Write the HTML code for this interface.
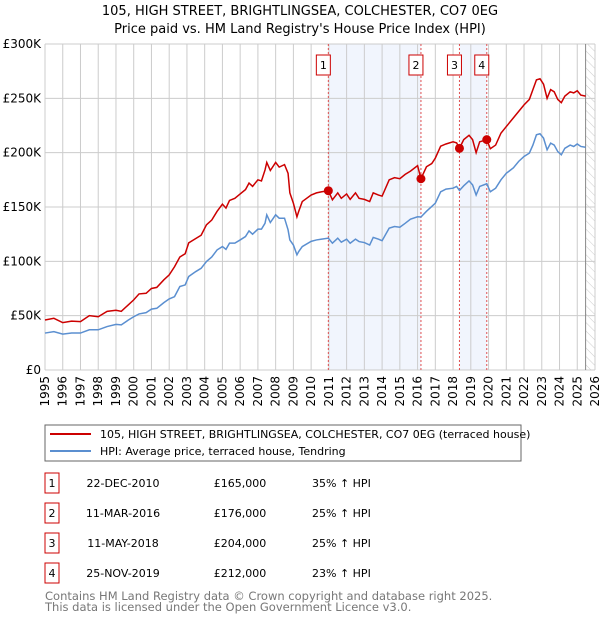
<!DOCTYPE html>
<html><head><meta charset="utf-8"><style>
body{margin:0;background:#fff;font-family:"DejaVu Sans","Liberation Sans",sans-serif;}
svg{display:block}
</style></head><body>
<svg id="chart" width="600" height="620" xmlns="http://www.w3.org/2000/svg" font-family="DejaVu Sans, Liberation Sans, sans-serif">
<text x="300" y="15" text-anchor="middle" font-size="13">105, HIGH STREET, BRIGHTLINGSEA, COLCHESTER, CO7 0EG</text>
<text x="300" y="33" text-anchor="middle" font-size="13">Price paid vs. HM Land Registry's House Price Index (HPI)</text>
<defs><pattern id="hatch" patternUnits="userSpaceOnUse" width="6" height="6" patternTransform="rotate(-45)"><line x1="0" y1="0" x2="0" y2="6" stroke="#ccc" stroke-width="1"/></pattern></defs>
<g id="plot"></g>
<g>
<rect x="45" y="425" width="476" height="36" fill="#fff" stroke="#666"/>
<line x1="50" y1="434" x2="91" y2="434" stroke="#cc0000" stroke-width="2"/>
<text x="100" y="438" font-size="11">105, HIGH STREET, BRIGHTLINGSEA, COLCHESTER, CO7 0EG (terraced house)</text>
<line x1="50" y1="451" x2="91" y2="451" stroke="#5b8fd0" stroke-width="2"/>
<text x="100" y="455" font-size="11">HPI: Average price, terraced house, Tendring</text>
</g>
<g id="table"></g>
<text x="45" y="600" font-size="11.5" fill="#777">Contains HM Land Registry data © Crown copyright and database right 2025.</text>
<text x="45" y="611" font-size="11.5" fill="#777">This data is licensed under the Open Government Licence v3.0.</text>
</svg>
<script>
const redYears=[1995,1995.5,1996,1996.5,1997,1997.5,1998,1998.5,1999,1999.3,1999.7,2000,2000.3,2000.7,2001,2001.3,2001.7,2002,2002.3,2002.6,2002.9,2003.1,2003.5,2003.8,2004.1,2004.4,2004.7,2005,2005.2,2005.4,2005.7,2006,2006.3,2006.5,2006.7,2007,2007.2,2007.4,2007.5,2007.7,2008,2008.2,2008.5,2008.7,2008.8,2009,2009.2,2009.3,2009.5,2010,2010.3,2010.6,2010.97,2011.2,2011.5,2011.7,2012,2012.2,2012.5,2012.7,2013,2013.3,2013.5,2013.8,2014,2014.4,2014.7,2015,2015.3,2015.6,2016,2016.19,2016.5,2016.8,2017,2017.3,2017.6,2018,2018.2,2018.36,2018.6,2018.9,2019.1,2019.3,2019.5,2019.9,2020.1,2020.4,2020.7,2021,2021.4,2021.7,2022,2022.3,2022.5,2022.7,2022.9,2023.1,2023.3,2023.5,2023.7,2023.9,2024.1,2024.3,2024.6,2024.8,2025,2025.2,2025.47];
const redValues=[46,47.6,43.6,45,44.5,50,49,54,55,54,60,64.5,70,70.6,75,76,83,87.5,95,104,107,117,121,124,133.6,138,146,152.6,149,156,158,162,166,172,169,175,174,184,191,183.6,191,186.7,189,181,163,153.5,141,146,155,161,163,164,165,156.6,163,158,162,157,163,158,157,155,163,161,160,175,177,176,180,183,188,176,187,190,195,206,208,210,209,204,212,216,212,200,210,212,203.6,207,218,224,232,238,244,249,258,267,268,263,250,258,256,249,246,252,256,255,257,253,252];
const hpiValues=[34,35.3,33,34,34,37,37,40,42,41.5,46,49,51.6,52.8,56,56.8,62,65.4,67.5,76.8,78.3,86,90.6,93.6,99.8,104,110.5,113.6,111,116.7,116.7,119.7,122.8,128,125,129.6,129.6,135,142.8,135.7,142.8,139.7,139.7,129,119.7,115,106,109,113.6,118.4,119.7,120.4,121.3,116.7,121.3,117.6,120.4,116.7,120.4,118.2,117.3,115,122,120.4,119,130.5,132,131.4,135,138.8,141,140.8,146,150.5,153.5,164,166.5,167.3,168.9,165.2,169.5,174,170.4,161,168.9,171.4,164,167.3,175,181,186,192,196.5,199.6,207,216.5,217.4,213.4,202.6,208.8,207,201,198,204,207,205.7,208,205.7,205];
const saleDates=[2010.97,2016.19,2018.36,2019.9];
const salePrices=[165,176,204,212];
const saleLabels=["1","2","3","4"];
const saleDateText=["22-DEC-2010","11-MAR-2016","11-MAY-2018","25-NOV-2019"];
const salePriceText=["£165,000","£176,000","£204,000","£212,000"];
const saleHpiText=["35% ↑ HPI","25% ↑ HPI","25% ↑ HPI","23% ↑ HPI"];
const yTicks=[0,50,100,150,200,250,300];
const yTickLabels=["£0","£50K","£100K","£150K","£200K","£250K","£300K"];
const xTicks=[1995,1996,1997,1998,1999,2000,2001,2002,2003,2004,2005,2006,2007,2008,2009,2010,2011,2012,2013,2014,2015,2016,2017,2018,2019,2020,2021,2022,2023,2024,2025,2026];
const shadeSpans=[[0,1],[2,3]];
const forecastStart=2025.47;

const L=45,R=595,T=44,B=370;
const X=y=>L+(y-1995)/(2026-1995)*(R-L);
const Y=v=>B-v/300*(B-T);
const NS="http://www.w3.org/2000/svg";
function mk(tag,attrs,parent){const e=document.createElementNS(NS,tag);for(const k in attrs)e.setAttribute(k,attrs[k]);parent.appendChild(e);return e;}
const plot=document.getElementById('plot');
shadeSpans.forEach(s=>{
 const r=mk('rect',{x:X(saleDates[s[0]]),y:T,width:X(saleDates[s[1]])-X(saleDates[s[0]]),height:B-T,fill:'#eef2fc',opacity:'0.8'},plot);
 
 
});
const fc=mk('rect',{x:X(forecastStart),y:T,width:R-X(forecastStart),height:B-T,fill:'url(#hatch)'},plot);


xTicks.forEach(t=>{
 const g=mk('line',{x1:X(t),x2:X(t),y1:T,y2:B,stroke:'#ccc','stroke-width':1},plot);
 
 
 const tx=mk('text',{x:0,y:0,'font-size':12,'text-anchor':'end',transform:`translate(${X(t)+4},${B+6}) rotate(-90)`},plot);
 tx.textContent=t;
 
 
});
yTicks.forEach((t,i)=>{
 const g=mk('line',{x1:L,x2:R,y1:Y(t),y2:Y(t),stroke:'#ccc','stroke-width':1},plot);
 
 
 const tx=mk('text',{x:L-4,y:Y(t)+4,'font-size':12,'text-anchor':'end'},plot);
 tx.textContent=yTickLabels[i];
 
 
});
const fl=mk('line',{x1:X(forecastStart),x2:X(forecastStart),y1:T,y2:B,stroke:'#888','stroke-width':1},plot);


saleDates.forEach((d,i)=>{
 const l=mk('line',{x1:X(d),x2:X(d),y1:T,y2:B,stroke:'#e05050','stroke-width':1,'stroke-dasharray':'2,2'},plot);
 
 
 const b=mk('rect',{x:X(d)-12,y:55,width:14,height:20,fill:'#fff',stroke:'#cc0000'},plot);
 
 
 const t=mk('text',{x:X(d)-5,y:69,'font-size':11,'text-anchor':'middle'},plot);
 t.textContent=saleLabels[i];
 
 
});
const hp=mk('polyline',{points:redYears.map((y,i)=>X(y)+','+Y(hpiValues[i])).join(' '),fill:'none',stroke:'#5b8fd0','stroke-width':1.5},plot);


const rp=mk('polyline',{points:redYears.map((y,i)=>X(y)+','+Y(redValues[i])).join(' '),fill:'none',stroke:'#cc0000','stroke-width':1.5},plot);


saleDates.forEach((d,i)=>{
 const c=mk('circle',{cx:X(d),cy:Y(salePrices[i]),r:4.5,fill:'#cc0000'},plot);
 
 
});
const tb=document.getElementById('table');
saleLabels.forEach((s,i)=>{
 const cy=483+i*30;
 const b=mk('rect',{x:45,y:cy-10,width:14,height:20,fill:'#fff',stroke:'#cc0000'},tb);
 
 
 const cells=[[52,'middle',s],[123,'middle',saleDateText[i]],[240,'middle',salePriceText[i]],[312,'start',saleHpiText[i]]];
 cells.forEach(c=>{
  const t=mk('text',{x:c[0],y:cy+4,'font-size':11,'text-anchor':c[1]},tb);
  t.textContent=c[2];
  
  
 });
});
</script>
</body></html>
